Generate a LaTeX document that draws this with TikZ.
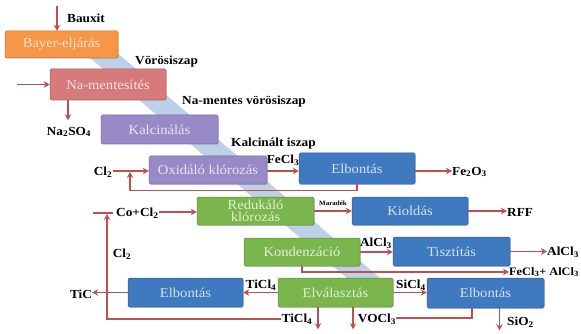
\documentclass[tikz,border=0pt]{standalone}
\usepackage{fontspec}
\setmainfont{Liberation Serif}[FakeStretch=1.08]
\usetikzlibrary{arrows.meta,shadows}
\definecolor{cOr}{HTML}{F79646}
\definecolor{cPk}{HTML}{D67A7B}
\definecolor{cPu}{HTML}{978AC6}
\definecolor{cBl}{HTML}{3F79C0}
\definecolor{cGr}{HTML}{7AB64B}
\definecolor{cRed}{HTML}{C0504D}
\definecolor{cBand}{HTML}{BCD1E8}
\newcommand\bxfont{\fontsize{13.5}{14.5}\selectfont}
\newcommand\lbfont{\bfseries\fontsize{12.3}{13}\selectfont}
\newcommand\lbsmall{\bfseries\fontsize{11.4}{12}\selectfont}
\newcommand\smfont{\bfseries\fontsize{6.5}{7}\selectfont}
\begin{document}
\begin{tikzpicture}[x=1pt,y=-1pt,
  box/.style={rectangle, rounded corners=1.5pt, inner sep=0pt, draw=#1!75!black, line width=0.5pt,
    fill=#1, text=#1!22!white, font=\bxfont, align=center,
    drop shadow={shadow xshift=0.8pt,shadow yshift=-0.9pt,opacity=0.25}},
  lab/.style={inner sep=0pt, font=\lbfont, text=black},
  arr/.style={draw=cRed, line width=1.3pt, -{Stealth[length=6pt,width=6.5pt]}},
  ln/.style={draw=cRed, line width=1.3pt}]
\useasboundingbox (0,0) rectangle (581,334);

% diagonal band behind the boxes
\fill[cBand] (75,45) -- (108,45) -- (394,290) -- (361,290) -- cycle;

% boxes
\node[box=cOr, minimum width=113pt, minimum height=27pt] (bayer) at (61.5,44.5) {Bayer-eljárás};
\node[box=cPk, minimum width=116pt, minimum height=31pt] (namen) at (108,84.5) {Na-mentesítés};
\node[box=cPu, minimum width=117pt, minimum height=29pt] (kalc) at (159.5,129.5) {Kalcinálás};
\node[box=cPu, minimum width=118pt, minimum height=28pt] (oxid) at (208,170) {Oxidáló klórozás};
\node[box=cBl, minimum width=116pt, minimum height=31pt] (elb1) at (357,168.5) {Elbontás};
\node[box=cGr, minimum width=117pt, minimum height=28pt] (reduk) at (255.5,211) {Redukáló\\[-2.5pt]klórozás};
\node[box=cBl, minimum width=116pt, minimum height=28pt] (kiold) at (410,211) {Kioldás};
\node[box=cGr, minimum width=116pt, minimum height=28pt] (kond) at (302,252) {Kondenzáció};
\node[box=cBl, minimum width=117pt, minimum height=29pt] (tiszt) at (451.5,251.5) {Tisztítás};
\node[box=cGr, minimum width=115pt, minimum height=29pt] (elval) at (335.5,292.5) {Elválasztás};
\node[box=cBl, minimum width=117pt, minimum height=30pt] (elb2) at (485.5,293) {Elbontás};
\node[box=cBl, minimum width=115pt, minimum height=29pt] (elb3) at (185.5,292.5) {Elbontás};

% labels
\node[lab, anchor=west] (baux) at (67,18) {Bauxit};
\node[lab, anchor=west] (voros) at (135,62) {Vörösiszap};
\node[lab, anchor=west] (namv) at (182,102) {Na-mentes vörösiszap};
\node[lab, anchor=west] (kisz) at (231,144) {Kalcinált iszap};
\node[lab] (fecl) at (283,160) {FeCl\textsubscript{3}};
\node[lab] (naso) at (69,132) {Na\textsubscript{2}SO\textsubscript{4}};
\node[lab] (cla) at (103,172) {Cl\textsubscript{2}};
\node[lab, anchor=west] (feo) at (452,172) {Fe\textsubscript{2}O\textsubscript{3}};
\node[lab, anchor=west] (cocl) at (116,213) {Co+Cl\textsubscript{2}};
\node[inner sep=0pt, font=\smfont] (mara) at (333,203) {Maradék};
\node[lab, anchor=west] (rff) at (507,212) {RFF};
\node[lab] (clb) at (122,254) {Cl\textsubscript{2}};
\node[lab] (alup) at (376,243) {AlCl\textsubscript{3}};
\node[lab, anchor=west] (alr) at (547,252) {AlCl\textsubscript{3}};
\node[lab, anchor=west, font=\lbsmall] (feal) at (509,272) {FeCl\textsubscript{3}+ AlCl\textsubscript{3}};
\node[lab] (sicl) at (411,285) {SiCl\textsubscript{4}};
\node[lab] (ticu) at (261,285) {TiCl\textsubscript{4}};
\node[lab] (tic) at (81,294) {TiC};
\node[lab] (ticb) at (297,319) {TiCl\textsubscript{4}};
\node[lab] (vocl) at (377,319) {VOCl\textsubscript{3}};
\node[lab, anchor=west] (sio) at (507,322) {SiO\textsubscript{2}};

% free ends
\coordinate (bauxin) at (57,6);
\coordinate (nain) at (17,84.5);
\coordinate (loopend) at (130,172);
\coordinate (tbarL) at (93,213);
\coordinate (tbarR) at (113,213);
\coordinate (tbarC) at (107,214);

% connectors
\draw[arr] (bauxin) -- (bauxin |- bayer.north);
\draw[arr] (nain) -- (namen.west);
\draw[arr] ([xshift=-40pt]namen.south) -- ++(0,20);
\draw[arr] ([xshift=1pt]cla.east |- 0,171) -- (oxid.west |- 0,171);
\draw[arr] (oxid.east |- 0,171) -- (elb1.west |- 0,171);
\draw[arr] (elb1.south) -- ++(0,6) -| (loopend);
\draw[arr] (elb1.east |- 0,171) -- (feo.west |- 0,171);
\draw[ln] (tbarL) -- (tbarR);
\draw[arr] (ticb.west) -| (tbarC);
\draw[arr] (cocl.east |- 0,212) -- (reduk.west |- 0,212);
\draw[arr] (reduk.east) -- (kiold.west);
\draw[arr] (kiold.east) -- (rff.west |- kiold.east);
\draw[arr] (kond.east) -- (kond.east -| tiszt.west);
\draw[arr] (tiszt.east) -- (tiszt.east -| alr.west);
\draw[arr] (kond.south) |- (feal.west |- 0,272);
\draw[arr] (elval.east) -- (elval.east -| elb2.west);
\draw[arr] (elval.west) -- (elval.west -| elb3.east);
\draw[arr] (elb3.west) -- (elb3.west -| tic.east);
\draw[arr] ([xshift=-17.5pt]elval.south) -- ++(0,22);
\draw[arr] ([xshift=17.5pt]elval.south) -- ++(0,22);
\draw[ln] ([xshift=-13.5pt]elb2.south) |- (vocl.east |- 0,318);
\draw[arr] ([xshift=14pt]elb2.south) -- ++(0,22);
\end{tikzpicture}
\end{document}
